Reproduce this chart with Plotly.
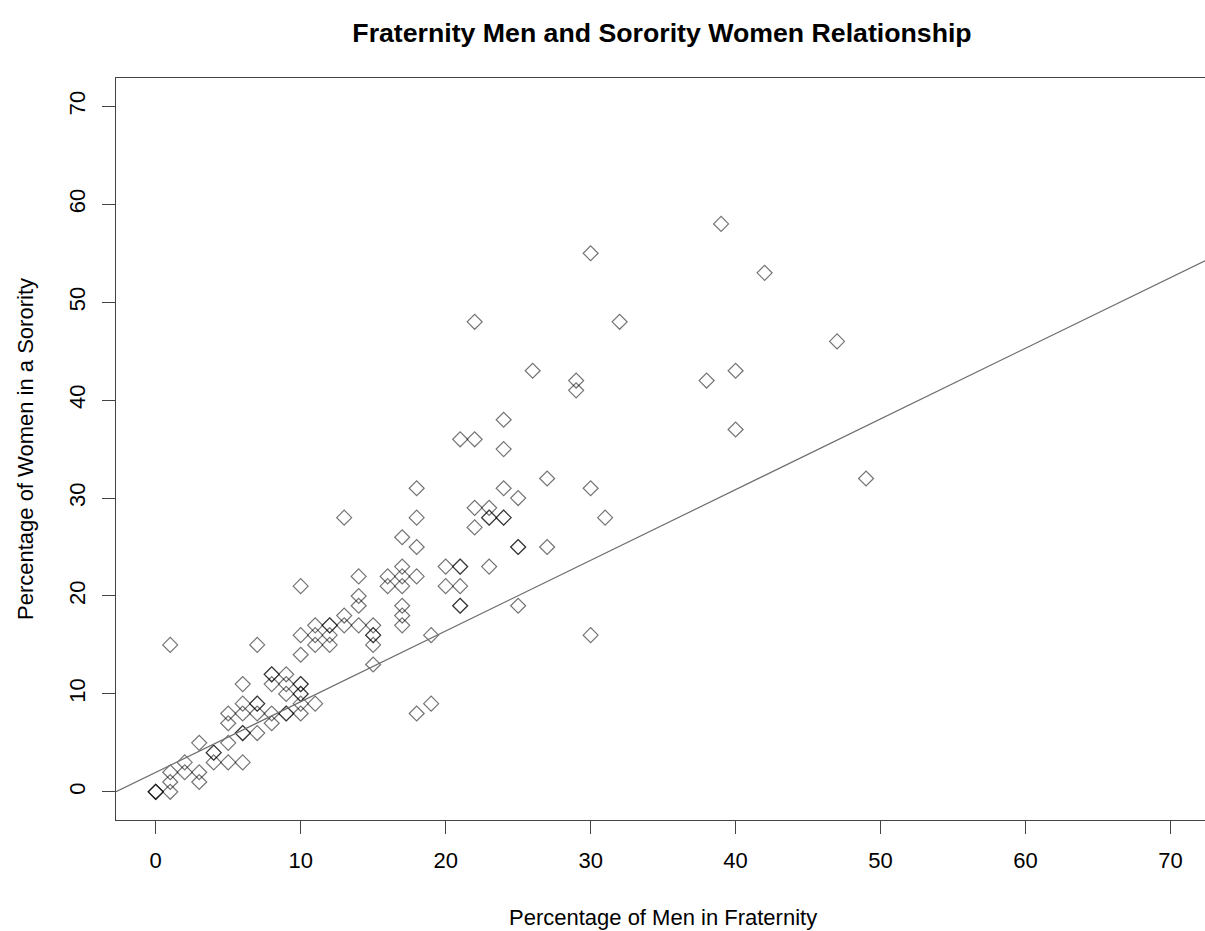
import plotly.graph_objects as go

# Data (percent of men in fraternity, percent of women in sorority)
men_pct = [0, 0, 0, 1, 1, 1, 1, 2, 2, 3, 3, 3, 4, 4, 4, 5, 5, 5, 5, 6, 6, 6, 6, 6, 6,
           7, 7, 7, 7, 7, 8, 8, 8, 8, 8, 9, 9, 9, 9, 9, 10, 10, 10, 10, 10, 10, 10, 10, 10,
           11, 11, 11, 11, 12, 12, 12, 12, 13, 13, 13, 14, 14, 14, 14, 15, 15, 15, 15, 15,
           16, 16, 17, 17, 17, 17, 17, 17, 17, 18, 18, 18, 18, 18, 19, 19, 20, 20,
           21, 21, 21, 21, 21, 21, 22, 22, 22, 22, 23, 23, 23, 23, 24, 24, 24, 24, 24,
           25, 25, 25, 25, 26, 27, 27, 29, 29, 30, 30, 30, 31, 32, 38, 39, 40, 40, 42, 47, 49]
women_pct = [0, 0, 0, 0, 1, 2, 15, 2, 3, 1, 2, 5, 3, 4, 4, 3, 5, 7, 8, 3, 6, 6, 8, 9, 11,
             6, 8, 9, 9, 15, 7, 8, 11, 12, 12, 8, 8, 10, 11, 12, 8, 9, 10, 10, 11, 11, 14, 16, 21,
             9, 15, 16, 17, 15, 16, 17, 17, 17, 18, 28, 17, 19, 20, 22, 13, 15, 16, 16, 17,
             21, 22, 17, 18, 19, 21, 22, 23, 26, 8, 22, 25, 28, 31, 9, 16, 21, 23,
             19, 19, 21, 23, 23, 36, 27, 29, 36, 48, 23, 28, 28, 29, 28, 28, 31, 35, 38,
             19, 25, 25, 30, 43, 25, 32, 41, 42, 16, 31, 55, 28, 48, 42, 58, 37, 43, 53, 46, 32]

# Reference line parameters (intercept, slope)
line_intercept = 1.98
line_slope = 0.722

x_range = [-2.74, 72.38]
y_range = [-2.88, 72.9]
tick_vals = [0, 10, 20, 30, 40, 50, 60, 70]

FONT = "Liberation Sans, Arial, Helvetica, sans-serif"

fig = go.Figure()
fig.add_trace(go.Scatter(
    x=men_pct, y=women_pct, mode="markers",
    marker=dict(symbol="diamond-open", size=11.5, color="rgba(0,0,0,0.55)",
                line=dict(width=1.2, color="rgba(0,0,0,0.55)")),
    hoverinfo="x+y", showlegend=False,
))

line_x = x_range
line_y = [line_intercept + line_slope * v for v in line_x]
fig.add_trace(go.Scatter(
    x=line_x, y=line_y, mode="lines",
    line=dict(color="#6e6e6e", width=1.2),
    hoverinfo="skip", showlegend=False,
))

fig.update_layout(
    width=1205, height=931,
    margin=dict(l=116, r=0, t=78, b=111),
    paper_bgcolor="white", plot_bgcolor="white",
    font=dict(family=FONT, size=22, color="black"),
    title=dict(text="<b>Fraternity Men and Sorority Women Relationship</b>",
               font=dict(family=FONT, size=26.7, color="black"),
               x=662 / 1205, xanchor="center", xref="container",
               y=1 - 33 / 931, yanchor="middle", yref="container"),
    xaxis=dict(range=x_range, tickvals=tick_vals, showgrid=False, zeroline=False,
               showline=True, linecolor="#444444", linewidth=1, mirror=True,
               ticks="outside", ticklen=13, tickwidth=1, tickcolor="#444444",
               ticklabelstandoff=8,
               tickfont=dict(family=FONT, size=22, color="black")),
    yaxis=dict(range=y_range, tickvals=tick_vals, showgrid=False, zeroline=False,
               showline=True, linecolor="#444444", linewidth=1, mirror=False,
               ticks="outside", ticklen=13, tickwidth=1, tickcolor="#444444",
               tickangle=-90, ticklabelstandoff=8,
               tickfont=dict(family=FONT, size=22, color="black")),
    annotations=[
        dict(text="Percentage of Men in Fraternity", xref="paper", yref="paper",
             x=(663 - 116) / 1089, y=(820 - 917) / 742, xanchor="center", yanchor="middle",
             showarrow=False, font=dict(family=FONT, size=22, color="black")),
        dict(text="Percentage of Women in a Sorority", xref="paper", yref="paper",
             x=(25 - 116) / 1089, y=0.5, xanchor="center", yanchor="middle", textangle=-90,
             showarrow=False, font=dict(family=FONT, size=22, color="black")),
    ],
)

fig.write_html("out.html")
